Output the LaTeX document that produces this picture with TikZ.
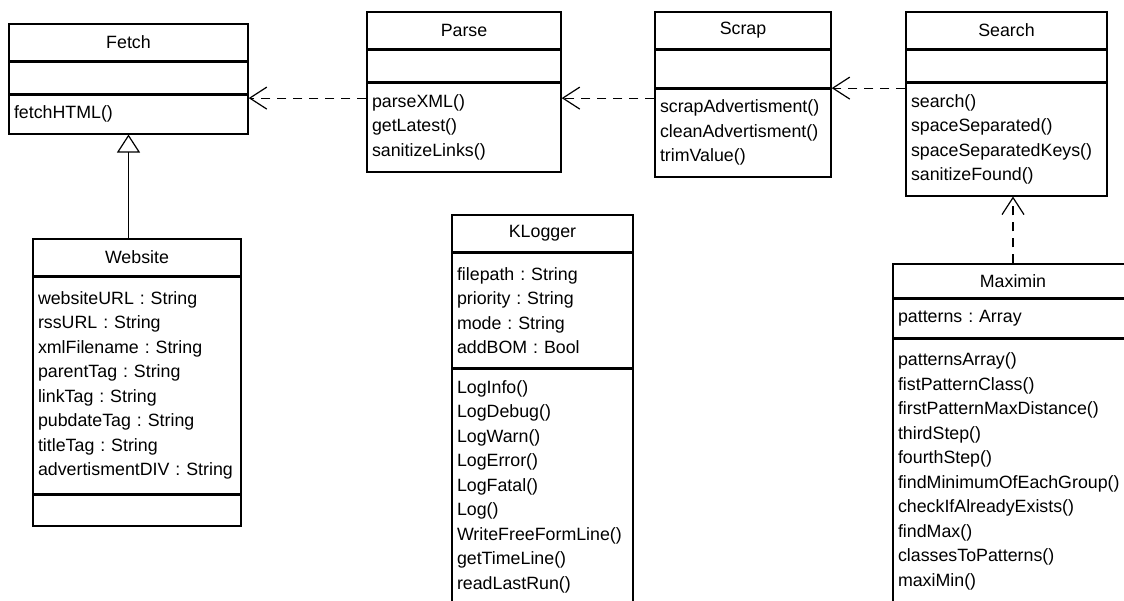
\documentclass[tikz,border=0pt]{standalone}
\usepackage{fontspec}
\setmainfont{Liberation Sans}
\frenchspacing
\usetikzlibrary{positioning,arrows.meta}

\tikzset{
    classname/.style={draw, line width=1.4pt, inner sep=0pt, align=center, font=\fontsize{17.8pt}{24.5pt}\selectfont},
    classpart/.style={draw, line width=1.4pt, inner xsep=5pt, inner ysep=0pt, align=left, font=\fontsize{17.8pt}{24.5pt}\selectfont},
    divider/.style={line width=2.6pt},
    dep/.style={line width=1.2pt, dash pattern=on 9pt off 7pt, -{Straight Barb[length=17pt, width=22pt]}},
    inherit/.style={line width=1.2pt, -{Triangle[open, length=18pt, width=23pt]}}
}

\begin{document}
\begin{tikzpicture}[x=1pt, y=-1pt] % one unit is one pixel, y runs downwards
    \useasboundingbox (0,0) rectangle (1124,600);
    \clip (0,0) rectangle (1124,600);

    % Fetch
    \node[classname, minimum width=239pt, minimum height=37pt] (fetch) at (128.5,42.5) {Fetch};
    \node[classpart, minimum width=239pt, minimum height=31pt, below=0pt of fetch] (fetch-attr) {};
    \node[classpart, text width=229pt, minimum height=39pt, below=0pt of fetch-attr] (fetch-ops) {fetchHTML()};

    % Parse
    \node[classname, minimum width=194pt, minimum height=37pt] (parse) at (464,30.5) {Parse};
    \node[classpart, minimum width=194pt, minimum height=31pt, below=0pt of parse] (parse-attr) {};
    \node[classpart, text width=184pt, minimum height=89pt, below=0pt of parse-attr] (parse-ops) {parseXML()\\getLatest()\\sanitizeLinks()};

    % Scrap
    \node[classname, minimum width=176pt, minimum height=37pt] (scrap) at (743,30.5) {Scrap};
    \node[classpart, minimum width=176pt, minimum height=37pt, below=0pt of scrap] (scrap-attr) {};
    \node[classpart, text width=166pt, minimum height=88pt, below=0pt of scrap-attr] (scrap-ops) {scrapAdvertisment()\\cleanAdvertisment()\\trimValue()};

    % Search
    \node[classname, minimum width=201pt, minimum height=37pt] (search) at (1006.5,30.5) {Search};
    \node[classpart, minimum width=201pt, minimum height=31pt, below=0pt of search] (search-attr) {};
    \node[classpart, text width=191pt, minimum height=113pt, below=0pt of search-attr] (search-ops) {search()\\spaceSeparated()\\spaceSeparatedKeys()\\sanitizeFound()};

    % Website
    \node[classname, minimum width=208pt, minimum height=37pt] (website) at (137,257.5) {Website};
    \node[classpart, text width=198pt, minimum height=216pt, below=0pt of website] (website-attr) {websiteURL : String\\rssURL : String\\xmlFilename : String\\parentTag : String\\linkTag : String\\pubdateTag : String\\titleTag : String\\advertismentDIV : String};
    \node[classpart, minimum width=208pt, minimum height=31pt, below=0pt of website-attr] (website-ops) {};

    % KLogger
    \node[classname, minimum width=181pt, minimum height=37pt] (klogger) at (542.5,233.5) {KLogger};
    \node[classpart, text width=171pt, minimum height=114pt, below=0pt of klogger] (klogger-attr) {filepath : String\\priority : String\\mode : String\\addBOM : Bool};
    \node[classpart, text width=171pt, minimum height=236pt, below=0pt of klogger-attr] (klogger-ops) {LogInfo()\\LogDebug()\\LogWarn()\\LogError()\\LogFatal()\\Log()\\WriteFreeFormLine()\\getTimeLine()\\readLastRun()};

    % Maximin
    \node[classname, minimum width=240pt, minimum height=34pt] (maximin) at (1013,281) {Maximin};
    \node[classpart, text width=230pt, minimum height=38pt, below=0pt of maximin] (maximin-attr) {patterns : Array};
    \node[classpart, text width=230pt, minimum height=265pt, below=0pt of maximin-attr] (maximin-ops) {patternsArray()\\fistPatternClass()\\firstPatternMaxDistance()\\thirdStep()\\fourthStep()\\findMinimumOfEachGroup()\\checkIfAlreadyExists()\\findMax()\\classesToPatterns()\\maxiMin()};

    % thick lines between the compartments
    \foreach \part in {fetch-attr, fetch-ops, parse-attr, parse-ops, scrap-attr, scrap-ops, search-attr, search-ops, website-attr, website-ops, klogger-attr, klogger-ops, maximin-attr, maximin-ops} {
        \draw[divider] (\part.north west) -- (\part.north east);
    }

    % dependencies
    \draw[dep] ([yshift=-16pt]parse-ops.north west) -- ([yshift=-4pt]fetch-ops.north east);
    \draw[dep] ([yshift=-10pt]scrap-ops.north west) -- ([yshift=-16pt]parse-ops.north east);
    \draw[dep] ([yshift=-6pt]search-ops.north west) -- (scrap-ops.north east);
    \draw[dep] (maximin.north) -- (maximin.north |- search-ops.south);

    % generalization
    \draw[inherit] (website.north -| fetch-ops.south) -- (fetch-ops.south);
\end{tikzpicture}
\end{document}
